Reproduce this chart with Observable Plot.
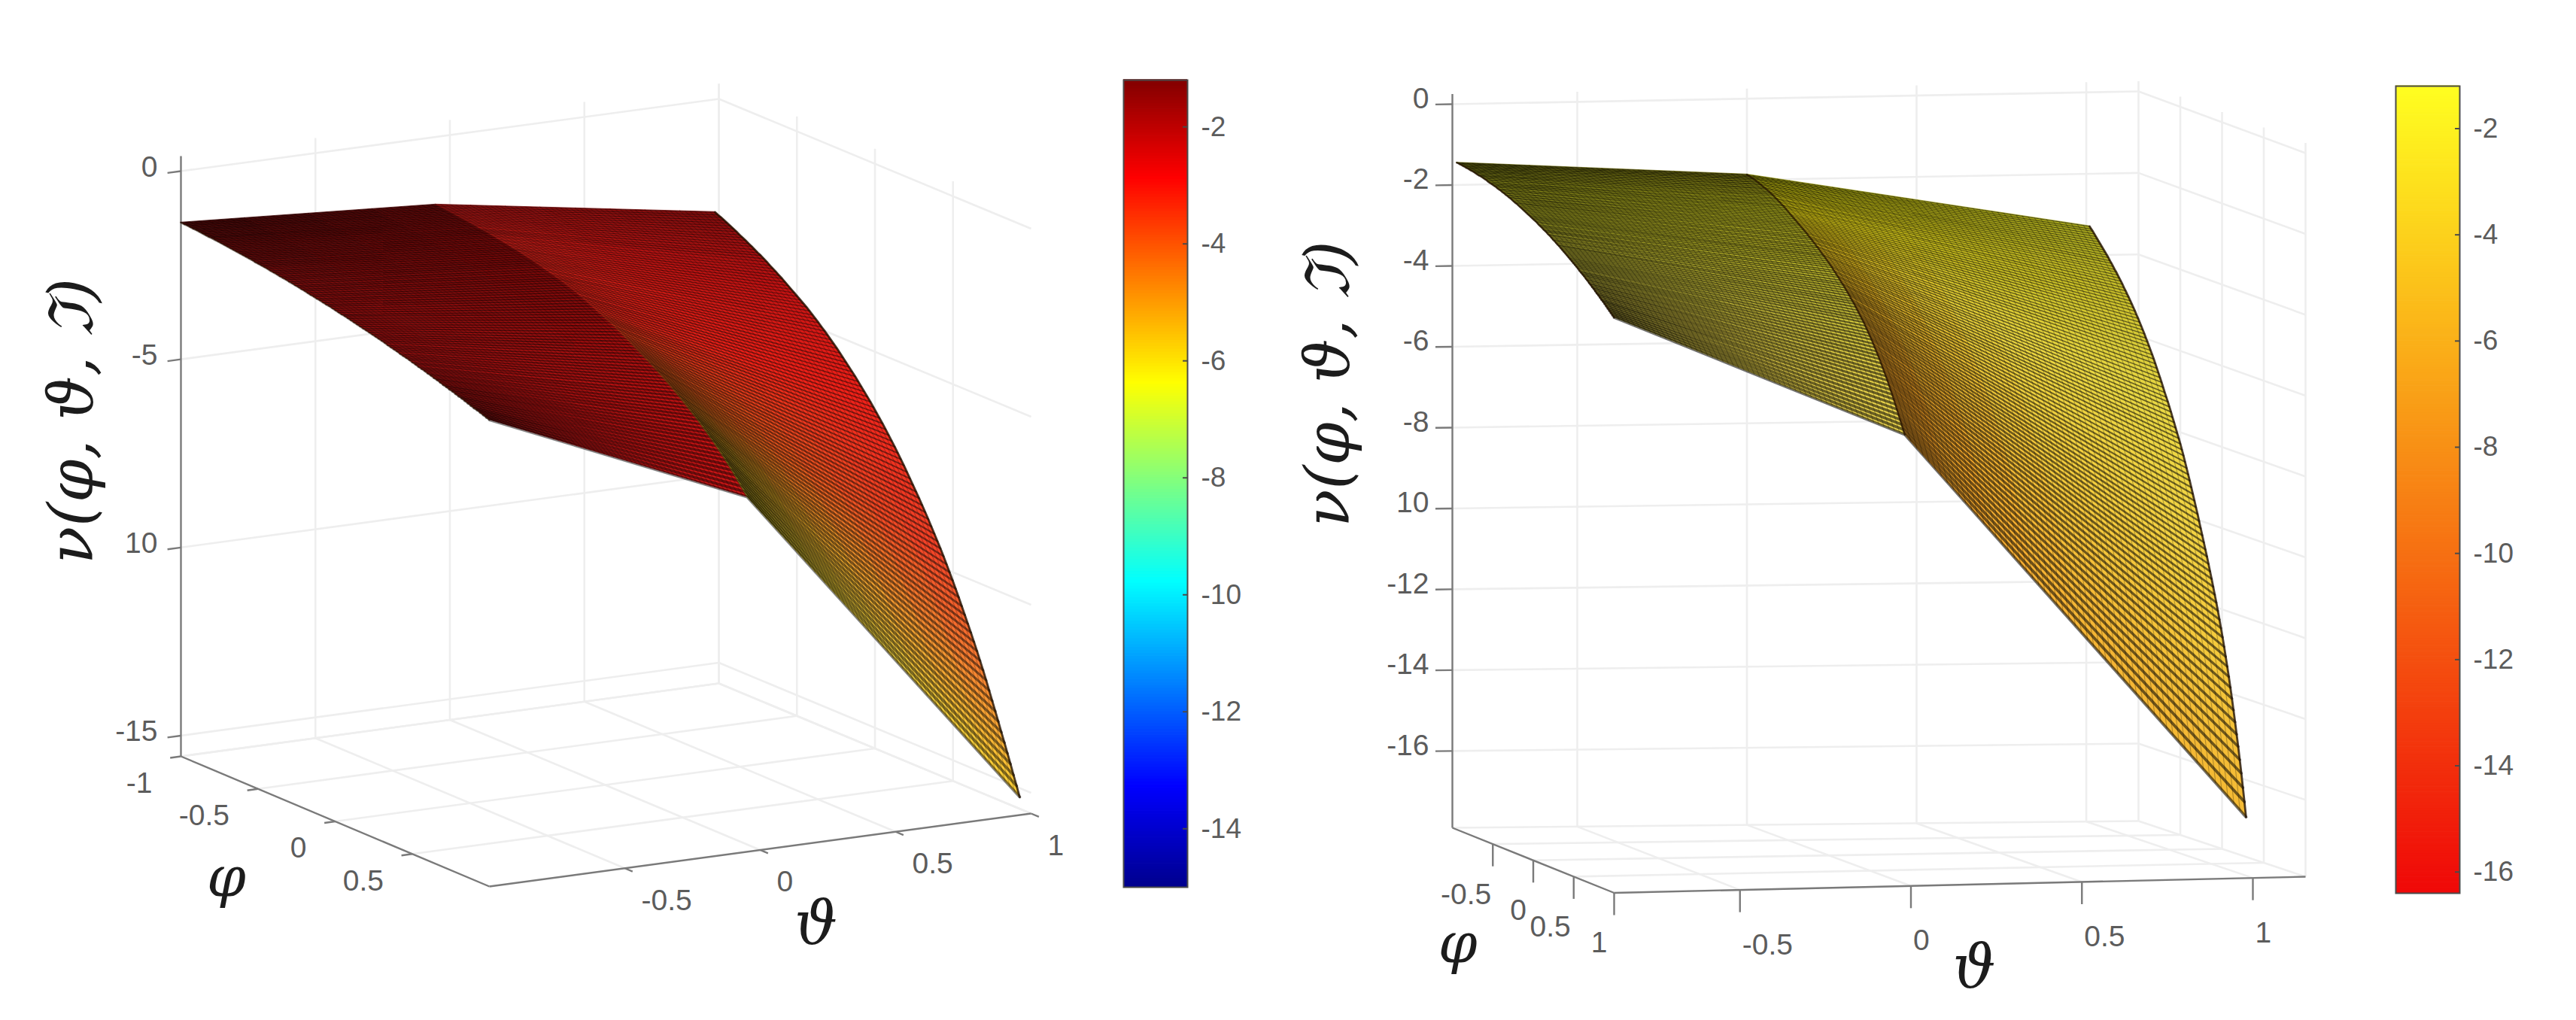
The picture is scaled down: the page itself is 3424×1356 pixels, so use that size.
<!DOCTYPE html>
<html><head><meta charset="utf-8">
<script src="https://cdn.jsdelivr.net/npm/d3@7"></script>
<script src="https://cdn.jsdelivr.net/npm/@observablehq/plot@0.6"></script>
<style>html,body{margin:0;background:#fff}#page{position:relative;width:3424px;height:1356px;overflow:hidden}#page>div{position:absolute;top:0}svg{overflow:visible;background:transparent}</style>
</head><body><div id="page"></div>
<script>
// Surface values (one value per mesh rib, phi = -1 ... 1)
const leftChartEdgeA=[-1.37,-1.38,-1.38,-1.39,-1.40,-1.40,-1.41,-1.42,-1.43,-1.44,-1.44,-1.45,-1.46,-1.47,-1.48,-1.49,-1.50,-1.51,-1.52,-1.53,-1.54,-1.55,-1.56,-1.57,-1.59,-1.60,-1.61,-1.62,-1.63,-1.65,-1.66,-1.67,-1.69,-1.70,-1.71,-1.73,-1.74,-1.76,-1.77,-1.79,-1.80,-1.82,-1.84,-1.85,-1.87,-1.88,-1.90,-1.92,-1.93,-1.95,-1.97,-1.99,-2.01,-2.02,-2.04,-2.06,-2.08,-2.10,-2.12,-2.14,-2.16,-2.18,-2.20,-2.22,-2.24,-2.26,-2.28,-2.31,-2.33,-2.35,-2.37,-2.40,-2.42,-2.44,-2.46,-2.49,-2.51,-2.54,-2.56,-2.58,-2.61,-2.63,-2.66,-2.68,-2.71,-2.74,-2.76,-2.79,-2.81,-2.84,-2.87,-2.89,-2.92,-2.95,-2.98,-3.01,-3.03,-3.06,-3.09,-3.12,-3.15];
const leftChartCrease=[-1.80,-1.81,-1.82,-1.83,-1.84,-1.85,-1.86,-1.87,-1.88,-1.89,-1.90,-1.91,-1.92,-1.93,-1.95,-1.96,-1.97,-1.98,-2.00,-2.01,-2.03,-2.04,-2.06,-2.07,-2.09,-2.11,-2.12,-2.14,-2.16,-2.18,-2.20,-2.22,-2.24,-2.26,-2.28,-2.31,-2.33,-2.36,-2.38,-2.41,-2.43,-2.46,-2.49,-2.52,-2.55,-2.58,-2.62,-2.65,-2.69,-2.73,-2.77,-2.81,-2.85,-2.89,-2.93,-2.97,-3.01,-3.06,-3.10,-3.15,-3.20,-3.25,-3.30,-3.35,-3.40,-3.45,-3.50,-3.55,-3.61,-3.66,-3.72,-3.77,-3.83,-3.89,-3.95,-4.01,-4.07,-4.14,-4.20,-4.27,-4.34,-4.41,-4.48,-4.55,-4.62,-4.70,-4.78,-4.86,-4.94,-5.02,-5.11,-5.20,-5.29,-5.38,-5.48,-5.58,-5.68,-5.79,-5.90,-6.01,-6.12];
const leftChartEdgeB=[-3.00,-3.04,-3.07,-3.11,-3.15,-3.19,-3.23,-3.27,-3.32,-3.36,-3.40,-3.45,-3.49,-3.54,-3.59,-3.63,-3.68,-3.73,-3.79,-3.84,-3.89,-3.95,-4.00,-4.06,-4.12,-4.18,-4.24,-4.30,-4.36,-4.42,-4.48,-4.55,-4.62,-4.69,-4.76,-4.84,-4.91,-4.99,-5.07,-5.15,-5.23,-5.32,-5.41,-5.50,-5.59,-5.68,-5.77,-5.87,-5.97,-6.07,-6.17,-6.27,-6.38,-6.49,-6.60,-6.71,-6.83,-6.95,-7.07,-7.19,-7.32,-7.45,-7.58,-7.72,-7.86,-8.00,-8.14,-8.28,-8.43,-8.58,-8.73,-8.89,-9.05,-9.21,-9.37,-9.54,-9.72,-9.90,-10.08,-10.27,-10.46,-10.66,-10.86,-11.06,-11.26,-11.47,-11.68,-11.90,-12.12,-12.35,-12.59,-12.83,-13.07,-13.31,-13.56,-13.80,-14.05,-14.30,-14.56,-14.81,-15.07];
const rightChartEdgeA=[-1.45,-1.45,-1.46,-1.46,-1.47,-1.47,-1.48,-1.48,-1.49,-1.50,-1.50,-1.51,-1.52,-1.53,-1.54,-1.54,-1.55,-1.56,-1.57,-1.58,-1.60,-1.61,-1.62,-1.63,-1.64,-1.65,-1.67,-1.68,-1.69,-1.71,-1.72,-1.74,-1.75,-1.77,-1.78,-1.80,-1.82,-1.84,-1.85,-1.87,-1.89,-1.91,-1.93,-1.95,-1.97,-1.99,-2.01,-2.03,-2.05,-2.07,-2.09,-2.11,-2.14,-2.16,-2.18,-2.21,-2.23,-2.25,-2.28,-2.30,-2.33,-2.36,-2.38,-2.41,-2.44,-2.46,-2.49,-2.52,-2.55,-2.58,-2.61,-2.64,-2.67,-2.70,-2.73,-2.76,-2.79,-2.82,-2.86,-2.89,-2.92,-2.95,-2.99,-3.02,-3.06,-3.09,-3.13,-3.16,-3.20,-3.24,-3.27,-3.31,-3.35,-3.38,-3.42,-3.46,-3.50,-3.54,-3.58,-3.62,-3.66];
const rightChartCrease=[-1.87,-1.88,-1.89,-1.90,-1.91,-1.92,-1.94,-1.95,-1.97,-1.98,-2.00,-2.02,-2.03,-2.05,-2.07,-2.09,-2.11,-2.13,-2.16,-2.18,-2.21,-2.23,-2.26,-2.28,-2.31,-2.34,-2.37,-2.40,-2.43,-2.46,-2.49,-2.52,-2.55,-2.58,-2.61,-2.64,-2.67,-2.70,-2.73,-2.77,-2.80,-2.83,-2.87,-2.90,-2.94,-2.97,-3.01,-3.05,-3.09,-3.12,-3.16,-3.20,-3.24,-3.28,-3.32,-3.37,-3.41,-3.46,-3.50,-3.55,-3.60,-3.64,-3.69,-3.74,-3.79,-3.84,-3.90,-3.95,-4.00,-4.06,-4.12,-4.18,-4.24,-4.30,-4.36,-4.43,-4.50,-4.57,-4.64,-4.71,-4.79,-4.87,-4.95,-5.03,-5.11,-5.20,-5.29,-5.38,-5.47,-5.56,-5.66,-5.76,-5.86,-5.96,-6.07,-6.18,-6.29,-6.40,-6.51,-6.62,-6.73];
const rightChartEdgeB=[-3.29,-3.34,-3.38,-3.43,-3.48,-3.53,-3.58,-3.63,-3.68,-3.73,-3.78,-3.83,-3.88,-3.94,-3.99,-4.05,-4.11,-4.16,-4.22,-4.28,-4.34,-4.40,-4.47,-4.53,-4.60,-4.66,-4.73,-4.80,-4.87,-4.94,-5.02,-5.09,-5.17,-5.25,-5.33,-5.41,-5.50,-5.58,-5.67,-5.76,-5.85,-5.94,-6.04,-6.14,-6.24,-6.34,-6.44,-6.55,-6.66,-6.76,-6.86,-6.97,-7.08,-7.20,-7.31,-7.43,-7.55,-7.66,-7.78,-7.91,-8.04,-8.18,-8.32,-8.46,-8.60,-8.75,-8.90,-9.05,-9.20,-9.35,-9.51,-9.67,-9.83,-9.99,-10.15,-10.31,-10.48,-10.65,-10.82,-11.00,-11.18,-11.36,-11.55,-11.75,-11.95,-12.16,-12.38,-12.61,-12.84,-13.08,-13.33,-13.59,-13.86,-14.14,-14.43,-14.72,-15.03,-15.35,-15.69,-16.03,-16.39];

// Tick values
const leftZTicks=[0,-5,-10,-15], leftZLabels=["0","-5","10","-15"];
const rightZTicks=[0,-2,-4,-6,-8,-10,-12,-14,-16], rightZLabels=["0","-2","-4","-6","-8","10","-12","-14","-16"];
const leftPhiTicks=[-1,-0.5,0,0.5], leftPhiLabels=["-1","-0.5","0","0.5"];
const rightPhiTicks=[-0.5,0,0.5,1], rightPhiLabels=["-0.5","0","0.5","1"];
const thetaTicksLeft=[-0.5,0,0.5,1], thetaLabelsLeft=["-0.5","0","0.5","1"];
const thetaTicksRight=[-0.5,0,0.5,1], thetaLabelsRight=["-0.5","0","0.5","1"];
const leftBarTicks=[-2,-4,-6,-8,-10,-12,-14];
const rightBarTicks=[-2,-4,-6,-8,-10,-12,-14,-16];

// Surface colours (rows: phi stops; columns: left edge, crease (left side), crease (right side), middle, right edge)
const phiStops=[-1,-0.5,0,0.5,0.75,1];
const leftTones=[
 ["#3e0606","#5a0808","#941010","#8a0e0e","#7e0c0c"],
 ["#640a0a","#740808","#c81e16","#c01412","#c01212"],
 ["#940e0e","#8a0a0a","#e02418","#ec2018","#f02018"],
 ["#bc1414","#c01212","#d86a18","#ec5a20","#f44028"],
 ["#c41414","#cc1414","#d4a820","#ee9a2c","#f67430"],
 ["#c01616","#d01616","#d8c428","#ecd040","#fcd034"]];
const rightTones=[
 ["#6a6a12","#767210","#a4a40c","#9c9a12","#a2a21c"],
 ["#94941a","#9c9c1a","#d0c012","#c2b81c","#c8be2c"],
 ["#b8b628","#c0ba28","#f0c01e","#ecd840","#e8d844"],
 ["#dcd440","#e0d440","#f8ac26","#f4cc3c","#f4d444"],
 ["#e6d648","#e8d448","#fca224","#f4c038","#f4ca3c"],
 ["#ecd84c","#ecd44c","#fca428","#f4b234","#f4ba34"]];

const jetDomain=[-15,-13.3,-9.8,-6.4,-2.9,-1.2], jetRange=["#00008f","#0000ff","#00ffff","#ffff00","#ff0000","#800000"];
const autumnDomain=[-16.4,-1.2], autumnRange=["#f00808","#ffff20"];

const tickFont={fontFamily:"Liberation Sans",fill:"#5c5c5c",fontSize:39};
const titleFont={fontFamily:"DejaVu Serif",fontStyle:"italic",fill:"#1c1c1c"};

const views={
 left:{left:0,width:1480,vMin:-15.55,vTop:0.4,thetaMin:-1,thetaMax:1,
  L:[240,227,240,1005],F:[650,400,650,1178],R:[1370,303.5,1370,1081],B:[955,131,955,908],
  thetaCols:[[-1,-1],[-0.052,-0.048],[0.986,0.958]],cols:[leftChartEdgeA,leftChartCrease,leftChartEdgeB],tones:leftTones,
  zTicks:leftZTicks,zLabels:leftZLabels,phiTicks:leftPhiTicks,phiLabels:leftPhiLabels,phiShift:[0,0,0,0],thetaTicks:thetaTicksLeft,thetaLabels:thetaLabelsLeft,
  floorTick:{kind:"flat"},phiDx:-38,phiDy:36,thetaDx:22,thetaDy:43,zDy:-5,creaseW:1.2,creaseO:.15,ribO:.48,edgeO:.55,
  titles:[{t:"ν(φ, ϑ, ℑ)",phi:-1,theta:-1,v:-8,dx:-144,dy:-68,size:82,rot:-90},{t:"φ",phi:.5,theta:-1,v:-15.55,dx:-247,dy:32,size:74},{t:"ϑ",phi:1,theta:0,v:-15.55,dx:74,dy:99,size:80}]},
 right:{left:1712,width:1440,vMin:-17.9,vTop:0.25,thetaMin:-0.868,thetaMax:1.154,
  L:[218,138,218,1100],F:[433,225,433,1186.5],R:[1352,203,1352,1165],B:[1130,121,1130,1091],
  thetaCols:[[-0.855,-0.868],[0,-0.018],[1.01,0.98]],cols:[rightChartEdgeA,rightChartCrease,rightChartEdgeB],tones:rightTones,
  zTicks:rightZTicks,zLabels:rightZLabels,phiTicks:rightPhiTicks,phiLabels:rightPhiLabels,phiShift:[0,-7,-2,-7],thetaTicks:thetaTicksRight,thetaLabels:thetaLabelsRight,
  floorTick:{kind:"down"},phiDx:-2,phiDy:67,thetaDx:3,thetaDy:73,zDy:-7,creaseW:2.4,creaseO:.75,ribO:.55,edgeO:.8,
  titles:[{t:"ν(φ, ϑ, ℑ)",phi:-1,theta:-0.868,v:-8,dx:-164,dy:-58,size:82,rot:-90},{t:"φ",phi:.5,theta:-0.868,v:-17.9,dx:-154,dy:90,size:74},{t:"ϑ",phi:1,theta:0,v:-17.9,dx:84,dy:110,size:80}]}
};

function surfacePlot(V){
  const lerp=(a,b,t)=>a+(b-a)*t;
  const P=(phi,theta,v)=>{
    const u=(phi+1)/2,w=(theta-V.thetaMin)/(V.thetaMax-V.thetaMin),h=v/V.vMin;
    const c=k=>lerp(lerp(lerp(V.L[k],V.F[k],u),lerp(V.B[k],V.R[k],u),w),lerp(lerp(V.L[k+2],V.F[k+2],u),lerp(V.B[k+2],V.R[k+2],u),w),h);
    return [c(0),c(1)];
  };
  const seg=(a,b)=>{const p=P(...a),q=P(...b);return {x1:p[0],y1:p[1],x2:q[0],y2:q[1]};};
  const {vMin,vTop,thetaMin:tA,thetaMax:tB}=V;
  const grid=[],axes=[],ticks=[];
  for(const z of V.zTicks){grid.push(seg([-1,tA,z],[-1,tB,z]),seg([-1,tB,z],[1,tB,z]));}
  for(const t of V.thetaTicks){grid.push(seg([-1,t,vMin],[-1,t,vTop]),seg([-1,t,vMin],[1,t,vMin]));}
  for(const p of V.phiTicks){grid.push(seg([p,tB,vMin],[p,tB,vTop]),seg([p,tA,vMin],[p,tB,vMin]));}
  grid.push(seg([-1,tB,vMin],[-1,tB,vTop]),seg([-1,tA,vMin],[-1,tB,vMin]),seg([-1,tB,vMin],[1,tB,vMin]));
  axes.push(seg([-1,tA,vMin],[-1,tA,vTop]),seg([-1,tA,vMin],[1,tA,vMin]),seg([1,tA,vMin],[1,tB,vMin]));
  const down=V.floorTick.kind==="down";
  for(const z of V.zTicks) ticks.push(seg([-1,tA,z],[-1,tA-0.05,z]));
  for(const p of V.phiTicks) ticks.push(down?seg([p,tA,vMin],[p,tA,vMin-.55]):seg([p,tA,vMin],[p,tA-.04,vMin]));
  for(const t of V.thetaTicks) ticks.push(down?seg([1,t,vMin],[1,t,vMin-.55]):seg([1,t,vMin],[1.05,t,vMin]));

  // filled cells between neighbouring ribs
  const [ca,cb,cc]=V.cols;
  const phiOf=i=>-1+i*0.02;
  const colTheta=(c,r)=>lerp(V.thetaCols[c][0],V.thetaCols[c][1],r/100);
  const rowScale=col=>d3.scaleLinear().domain(phiStops).range(V.tones.map(r=>r[col])).interpolate(d3.interpolateRgb);
  const toneCols=[0,1,2,3,4].map(rowScale);
  const toneAt=(phi,p)=>{const k=Math.min(3,Math.floor(p));return d3.interpolateRgb(toneCols[k](phi),toneCols[k+1](phi))(p-k);};
  const panels=[{A:ca,B:cb,a:0,b:1,subs:4,pos:f=>f,mesh:56},{A:cb,B:cc,a:1,b:2,subs:8,pos:f=>2+2*f,mesh:56}];
  const cells=[],meshLines=[];
  let id=0;
  panels.forEach((pn,j)=>{
    const at=(r,f)=>P(phiOf(r),lerp(colTheta(pn.a,r),colTheta(pn.b,r),f),lerp(pn.A[r],pn.B[r],f));
    for(let k=0;k<pn.subs;k++){
      const f0=k/pn.subs,f1=(k+1)/pn.subs;
      for(let i=0;i<100;i++){
        const color=toneAt(phiOf(i+.5),pn.pos((f0+f1)/2));
        for(const r of [i,i+1]){
          const p=at(r,f0),q=at(r,f1);
          cells.push({id,x1:p[0],y1:p[1],x2:q[0],y2:q[1],color});
        }
        id++;
      }
    }
    for(let m=1;m<pn.mesh;m++){
      const f=m/pn.mesh;
      for(let r=0;r<=100;r++){
        const p=at(r,f);
        meshLines.push({z:j+"-"+m,x:p[0],y:p[1]});
      }
    }
  });
  const ribs=[];
  for(let r=0;r<=100;r++){
    [0,1,2].forEach(c=>{const p=P(phiOf(r),colTheta(c,r),V.cols[c][r]);ribs.push({r,x:p[0],y:p[1],w:1+2.8*Math.pow(r/100,2)});});
  }
  const curve=c=>ca.map((_,r)=>{const p=P(phiOf(r),colTheta(c,r),V.cols[c][r]);return {x:p[0],y:p[1]};});
  const label=(vals,labs,fn,shift)=>vals.map((d,i)=>{const p=fn(d);return {x:p[0]+(shift?shift[i]:0),y:p[1],t:labs[i]};});
  const linkOpt={x1:"x1",y1:"y1",x2:"x2",y2:"y2"};
  const titleRows=V.titles.map(t=>{const p=P(t.phi,t.theta,t.v);return {...t,x:p[0],y:p[1]};});

  return Plot.plot({
    width:V.width,height:1356,margin:0,
    x:{domain:[0,V.width],range:[0,V.width],axis:null},
    y:{domain:[0,1356],range:[0,1356],axis:null},
    marks:[
      Plot.link(grid,{...linkOpt,stroke:"#eeeeee",strokeWidth:2.6}),
      Plot.link(axes,{...linkOpt,stroke:"#7a7a7a",strokeWidth:2.4}),
      Plot.link(ticks,{...linkOpt,stroke:"#7a7a7a",strokeWidth:2.4}),
      Plot.area(cells,{x1:"x1",y1:"y1",x2:"x2",y2:"y2",z:"id",fill:"color",stroke:"color",strokeWidth:.8}),
      Plot.line(meshLines,{x:"x",y:"y",z:"z",stroke:"#000",strokeOpacity:V.ribO*.5,strokeWidth:1.1}),
      Plot.line(ribs,{x:"x",y:"y",z:"r",stroke:"#000",strokeOpacity:V.ribO,strokeWidth:"w"}),
      Plot.line(curve(0),{x:"x",y:"y",stroke:"#201000",strokeOpacity:V.edgeO,strokeWidth:2.4}),
      Plot.line(curve(1),{x:"x",y:"y",stroke:"#201000",strokeOpacity:V.creaseO,strokeWidth:V.creaseW}),
      Plot.line(curve(2),{x:"x",y:"y",stroke:"#201000",strokeOpacity:.8,strokeWidth:2.8}),
      Plot.text(label(V.zTicks,V.zLabels,z=>P(-1,tA,z)),{x:"x",y:"y",text:"t",textAnchor:"end",dx:-31,dy:V.zDy,...tickFont}),
      Plot.text(label(V.phiTicks,V.phiLabels,p=>P(p,tA,vMin),V.phiShift),{x:"x",y:"y",text:"t",textAnchor:"end",dx:V.phiDx,dy:V.phiDy,...tickFont}),
      Plot.text(label(V.thetaTicks,V.thetaLabels,t=>P(1,t,vMin)),{x:"x",y:"y",text:"t",textAnchor:"start",dx:V.thetaDx,dy:V.thetaDy,...tickFont}),
      ...titleRows.map(t=>Plot.text([t],{x:"x",y:"y",text:"t",dx:t.dx,dy:t.dy,fontSize:t.size,rotate:t.rot||0,...titleFont}))
    ]
  });
}

function colorbar(opts){
  const levels=d3.range(opts.lo,opts.hi,0.05);
  return Plot.plot({
    width:220,height:1356,marginLeft:0,marginRight:135,marginTop:opts.top,marginBottom:1356-opts.bottom,
    x:{domain:[0,1],axis:null},
    y:{domain:[opts.lo,opts.hi],axis:null},
    color:{type:"linear",domain:opts.domain,range:opts.range,clamp:true},
    marks:[
      Plot.rect(levels,{x1:()=>0,x2:()=>1,y1:d=>d,y2:d=>d+0.06,fill:d=>d}),
      Plot.frame({stroke:"#4a4a4a",strokeWidth:2}),
      Plot.ruleY(opts.ticks,{y:d=>d,x1:()=>0.93,x2:()=>1,stroke:"#4a4a4a",strokeWidth:2}),
      Plot.axisY(opts.ticks,{anchor:"right",tickSize:0,tickPadding:18,tickFormat:d=>String(d),fontSize:37,fontFamily:"Liberation Sans",color:"#5c5c5c",label:null})
    ]
  });
}

const page=document.getElementById("page");
function place(node,left){const d=document.createElement("div");d.style.left=left+"px";d.appendChild(node);page.appendChild(d);}
place(surfacePlot(views.left),views.left.left);
place(colorbar({lo:-15,hi:-1.2,top:106,bottom:1179,domain:jetDomain,range:jetRange,ticks:leftBarTicks}),1493);
place(surfacePlot(views.right),views.right.left);
place(colorbar({lo:-16.4,hi:-1.2,top:114,bottom:1187,domain:autumnDomain,range:autumnRange,ticks:rightBarTicks}),3184);
</script></body></html>
